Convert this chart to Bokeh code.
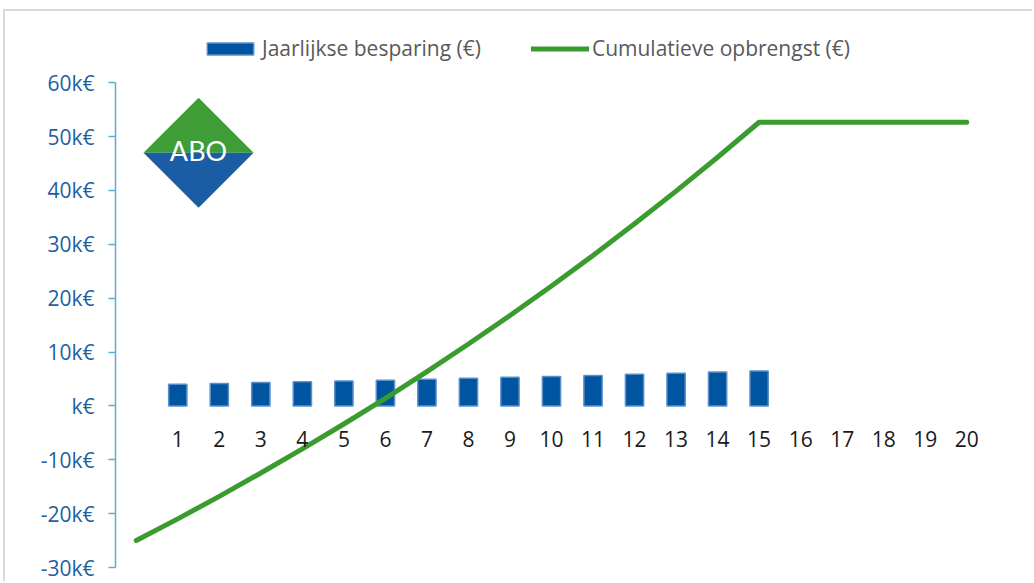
from bokeh.plotting import figure
from bokeh.models import (ColumnDataSource, FixedTicker, CustomJSTickFormatter,
                          Legend, LegendItem, Range1d, LinearAxis)
from bokeh.core.properties import value
from bokeh.embed import file_html
from bokeh.resources import INLINE

# --- data -------------------------------------------------------------
years = list(range(1, 16))
annual_saving = [4030, 4180, 4330, 4480, 4620, 4780, 4950, 5120,
                 5300, 5480, 5670, 5870, 6070, 6280, 6500]

line_years = list(range(0, 21))
cumulative = [-25000, -20970, -16790, -12460, -7980, -3360, 1420, 6370,
              11490, 16790, 22270, 27940, 33810, 39880, 46160, 52660,
              52660, 52660, 52660, 52660, 52660]

x_ticks = list(range(1, 21))
y_ticks = list(range(-30000, 60001, 10000))

bar_label = "Jaarlijkse besparing (€)"
line_label = "Cumulatieve opbrengst (€)"
logo_text = "ABO"

FONT = "Open Sans"

# --- figure -----------------------------------------------------------
# the y range reaches above the top tick so the legend has room inside the frame
p = figure(width=1029, height=572, output_backend="svg", toolbar_location=None,
           x_range=Range1d(-0.5, 20.5), y_range=Range1d(-30000, 71000),
           x_axis_type=None, y_axis_type=None,
           min_border_left=110, min_border_right=47,
           min_border_top=12, min_border_bottom=16,
           margin=(9, 0, 0, 3))
p.styles = {"border-top": "2px solid #D9D9D9", "border-left": "2px solid #D9D9D9"}
p.outline_line_color = None
p.background_fill_color = "white"
p.border_fill_color = "white"

# y axis
yaxis = LinearAxis(ticker=FixedTicker(ticks=y_ticks), bounds=(-30000, 60000))
yaxis.formatter = CustomJSTickFormatter(code="""
    const v = tick / 1000;
    return (v === 0 ? "" : v.toString()) + "k€";
""")
yaxis.axis_line_color = "#55AED3"
yaxis.axis_line_width = 1.5
yaxis.major_tick_line_color = "#55AED3"
yaxis.major_tick_line_width = 1.5
yaxis.major_tick_out = 7
yaxis.major_tick_in = 0
yaxis.minor_tick_line_color = None
yaxis.major_label_text_color = "#1C5FA3"
yaxis.major_label_text_font = FONT
yaxis.major_label_text_font_size = "21px"
yaxis.major_label_standoff = 14
p.add_layout(yaxis, "left")

# x axis sitting at zero
xaxis = LinearAxis(ticker=FixedTicker(ticks=x_ticks), fixed_location=0)
xaxis.axis_line_color = None
xaxis.major_tick_line_color = None
xaxis.minor_tick_line_color = None
xaxis.major_label_text_color = "#1A1A1A"
xaxis.major_label_text_font = FONT
xaxis.major_label_text_font_size = "21px"
xaxis.major_label_standoff = 19
p.add_layout(xaxis, "below")

p.ygrid.ticker = FixedTicker(ticks=y_ticks)
p.ygrid.grid_line_color = "#D9D9D9"
p.ygrid.grid_line_width = 1.3
p.xgrid.grid_line_color = None

# bars
bar_src = ColumnDataSource(dict(x=years, top=annual_saving))
bars = p.vbar(x="x", top="top", bottom=0, width=0.44, source=bar_src,
              fill_color="#0055A0", line_color="#5C8FCC", line_width=1.5)

# cumulative line
line_src = ColumnDataSource(dict(x=line_years, y=cumulative))
line = p.line(x="x", y="y", source=line_src, line_color="#3A9B2F",
              line_width=5, line_cap="round", line_join="round")

# logo: diamond split in green top and blue bottom
lx, ly, hw, hh = 1.5, 47000, 1.325, 10200
p.patch([lx - hw, lx, lx + hw], [ly, ly + hh, ly], fill_color="#3E9D37",
        line_color=None)
p.patch([lx - hw, lx, lx + hw], [ly, ly - hh, ly], fill_color="#1B5DA5",
        line_color=None)
p.text(x=[lx], y=[ly + 400], text=[logo_text], text_color="white",
       text_font=value("Lato"), text_font_size="27px",
       text_align="center", text_baseline="middle")

# legend at the top of the frame
legend = Legend(items=[LegendItem(label=bar_label, renderers=[bars]),
                       LegendItem(label=line_label, renderers=[line])],
                orientation="horizontal", location=(86, 505))
legend.glyph_width = 58
legend.glyph_height = 15
legend.label_standoff = 3
legend.spacing = 50
legend.padding = 0
legend.margin = 0
legend.border_line_color = None
legend.background_fill_alpha = 0
legend.label_text_font = FONT
legend.label_text_font_size = "21px"
legend.label_text_color = "#595959"
legend.label_height = 15
p.add_layout(legend, "center")

open("out.html", "w").write(file_html(p, INLINE))
